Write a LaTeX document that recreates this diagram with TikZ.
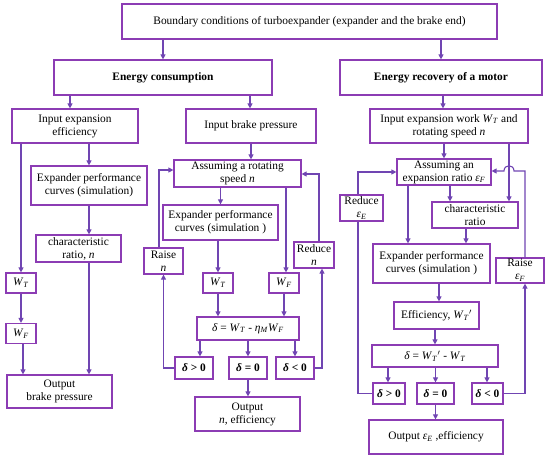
\documentclass[tikz,border=0pt]{standalone}
\usepackage{fontspec}
\setmainfont{Liberation Serif}
\usepackage{xcolor}
\usepackage{tikz}
\usetikzlibrary{arrows.meta}
\definecolor{boxPurple}{HTML}{8C3CB4}
\definecolor{linePurple}{HTML}{7045B2}
\newcommand{\wT}{\textit{W}\textsubscript{\textit{T}}}
\newcommand{\wF}{\textit{W}\textsubscript{\textit{F}}}
\newcommand{\epsF}{\textit{ε}\textsubscript{\textit{F}}}
\newcommand{\epsE}{\textit{ε}\textsubscript{\textit{E}}}
\newcommand{\dlt}{\textit{δ}}

\begin{document}
\begin{tikzpicture}[x=1pt, y=-1pt, >={Triangle[width=5pt,length=5pt]},
    font=\fontsize{11.4}{13}\selectfont,
    blk/.style={draw=boxPurple, line width=1.2pt, fill=white, align=center, inner sep=1pt},
    flow/.style={draw=linePurple, line width=1.1pt, ->},
    wire/.style={draw=linePurple, line width=1.1pt}]
    \useasboundingbox (0,0) rectangle (550,460);

    \node[blk, minimum width=375pt, minimum height=35pt] (bc) at (309.5,21.5) {Boundary conditions of turboexpander (expander and the brake end)};
    \node[blk, minimum width=218pt, minimum height=35pt, font=\fontsize{11.4}{13}\selectfont\bfseries] (ec) at (163,77.5) {Energy consumption};
    \node[blk, minimum width=202pt, minimum height=35pt, font=\fontsize{11.4}{13}\selectfont\bfseries] (er) at (441,77.5) {Energy recovery of a motor};

    \node[blk, minimum width=126pt, minimum height=34pt] (iee) at (75,126) {Input expansion\\efficiency};
    \node[blk, minimum width=116pt, minimum height=39pt] (epl) at (89,185.5) {Expander performance\\curves (simulation)};
    \node[blk, minimum width=85pt, minimum height=27pt] (crl) at (78.5,248.5) {characteristic\\ratio, \textit{n}};
    \node[blk, minimum width=30pt, minimum height=20pt] (wtl) at (21,283) {\wT};
    \node[blk, minimum width=30pt, minimum height=20pt] (wfl) at (21,333.5) {\wF};
    \node[blk, minimum width=105pt, minimum height=33pt] (obp) at (59.5,391.5) {Output\\brake pressure};

    \node[blk, minimum width=130pt, minimum height=34pt] (ibp) at (251,126) {Input brake pressure};
    \node[blk, minimum width=127pt, minimum height=27pt] (arn) at (237.5,173.5) {Assuming a rotating\\speed \textit{n}};
    \node[blk, minimum width=115pt, minimum height=35pt] (epm) at (220.5,222.5) {Expander performance\\curves (simulation )};
    \node[blk, minimum width=30pt, minimum height=20pt] (wtm) at (218,283) {\wT};
    \node[blk, minimum width=30pt, minimum height=20pt] (wfm) at (284,283) {\wF};
    \node[blk, minimum width=39pt, minimum height=26pt] (rsn) at (163.5,261) {Raise\\\textit{n}};
    \node[blk, minimum width=40pt, minimum height=26pt] (rdn) at (314,255) {Reduce\\\textit{n}};
    \node[blk, minimum width=102pt, minimum height=23pt] (dlm) at (248,328.5) {\dlt{} = \wT{} - \textit{η}\textsubscript{\textit{M}}\wF};
    \node[blk, minimum width=38pt, minimum height=22pt, font=\fontsize{11.4}{13}\selectfont\bfseries] (dgm) at (194,368) {\dlt{} > 0};
    \node[blk, minimum width=38pt, minimum height=22pt, font=\fontsize{11.4}{13}\selectfont\bfseries] (dem) at (248,368) {\dlt{} = 0};
    \node[blk, minimum width=38pt, minimum height=22pt, font=\fontsize{11.4}{13}\selectfont\bfseries] (dsm) at (295,368) {\dlt{} < 0};
    \node[blk, minimum width=105pt, minimum height=34pt] (onm) at (247.5,414) {Output\\\textit{n}, efficiency};

    \node[blk, minimum width=158pt, minimum height=34pt] (iew) at (449,126) {Input expansion work \wT{} and\\rotating speed \textit{n}};
    \node[blk, minimum width=94pt, minimum height=26pt] (aer) at (444,172) {Assuming an\\expansion ratio \epsF};
    \node[blk, minimum width=86pt, minimum height=26pt] (crr) at (475,215) {characteristic\\ratio};
    \node[blk, minimum width=117pt, minimum height=39pt] (epr) at (431.5,263.5) {Expander performance\\curves (simulation )};
    \node[blk, minimum width=43pt, minimum height=26pt] (rde) at (361.5,208) {Reduce\\\epsE};
    \node[blk, minimum width=48pt, minimum height=25pt] (rsf) at (520,270.5) {Raise\\\epsF};
    \node[blk, minimum width=85pt, minimum height=27pt] (eff) at (436.5,315.5) {Efficiency, \wT$'$};
    \node[blk, minimum width=126pt, minimum height=22pt] (dlr) at (435,356) {\dlt{} = \wT$'$ - \wT};
    \node[blk, minimum width=32pt, minimum height=21pt, font=\fontsize{11.4}{13}\selectfont\bfseries] (dgr) at (389,393.5) {\dlt{} > 0};
    \node[blk, minimum width=37pt, minimum height=21pt, font=\fontsize{11.4}{13}\selectfont\bfseries] (der) at (435.5,393.5) {\dlt{} = 0};
    \node[blk, minimum width=31pt, minimum height=21pt, font=\fontsize{11.4}{13}\selectfont\bfseries] (dsr) at (487.5,393.5) {\dlt{} < 0};
    \node[blk, minimum width=134pt, minimum height=34pt] (oer) at (436,437) {Output \epsE{} ,efficiency};

    \draw[flow] (bc.south -| ec.north) -- (ec.north);
    \draw[flow] (bc.south -| er.north) -- (er.north);
    \draw[flow] (70,0 |- ec.south) -- (70,0 |- iee.north);
    \draw[flow] (250,0 |- ec.south) -- (250,0 |- ibp.north);
    \draw[flow] (443,0 |- er.south) -- (443,0 |- iew.north);

    \draw[flow] (iee.south -| epl.north) -- (epl.north);
    \draw[flow] (epl.south) -- (crl.north -| epl.south);
    \draw[flow] (crl.south -| epl.south) -- (obp.north -| epl.south);
    \draw[flow] (iee.south -| wtl.north) -- (wtl.north);
    \draw[flow] (wtl.south) -- (wfl.north);
    \draw[flow] (23,0 |- wfl.south) -- (23,0 |- obp.north);

    \draw[flow] (ibp.south) -- (arn.north -| ibp.south);
    \draw[flow] (arn.south -| epm.north) -- (epm.north);
    \draw[flow] (286,0 |- arn.south) -- (286,0 |- wfm.north);
    \draw[flow] (epm.south -| wtm.north) -- (wtm.north);
    \draw[flow] (wtm.south) -- (dlm.north -| wtm.south);
    \draw[flow] (wfm.south) -- (dlm.north -| wfm.south);
    \draw[flow] (200,0 |- dlm.south) -- (200,0 |- dgm.north);
    \draw[flow] (dlm.south -| dem.north) -- (dem.north);
    \draw[flow] (dlm.south -| dsm.north) -- (dsm.north);
    \draw[flow] (dem.south) -- (onm.north -| dem.south);
    \draw[flow] (dgm.west) -| (rsn.south);
    \draw[flow] (159,0 |- rsn.north) |- (arn.west |- 0,170);
    \draw[flow] (dsm.east) -| (322,0 |- rdn.south);
    \draw[flow] (319,0 |- rdn.north) |- (arn.east |- 0,174);

    \draw[flow] (iew.south -| aer.north) -- (aer.north);
    \draw[flow] (509,0 |- iew.south) -- (509,0 |- crr.north);
    \draw[flow] (450,0 |- aer.south) -- (450,0 |- crr.north);
    \draw[flow] (408,0 |- aer.south) -- (408,0 |- epr.north);
    \draw[flow] (466,0 |- crr.south) -- (466,0 |- epr.north);
    \draw[flow] (439,0 |- epr.south) -- (439,0 |- eff.north);
    \draw[flow] (eff.south -| dlr.north) -- (dlr.north);
    \draw[flow] (388,0 |- dlr.south) -- (388,0 |- dgr.north);
    \draw[flow] (dlr.south -| der.north) -- (der.north);
    \draw[flow] (487,0 |- dlr.south) -- (487,0 |- dsr.north);
    \draw[flow] (der.south) -- (oer.north -| der.south);
    \draw[wire] (dgr.west) -| (358,0 |- rde.south);
    \draw[flow] (358,0 |- rde.north) |- (aer.west);
    \draw[flow] (dsr.east) -| (525,0 |- rsf.south);
    \draw[flow] (525,0 |- rsf.north) -- (525,171) -- (514,171) .. controls (514,164) and (504,164) .. (504,171) -- (aer.east |- 0,171);
\end{tikzpicture}
\end{document}
